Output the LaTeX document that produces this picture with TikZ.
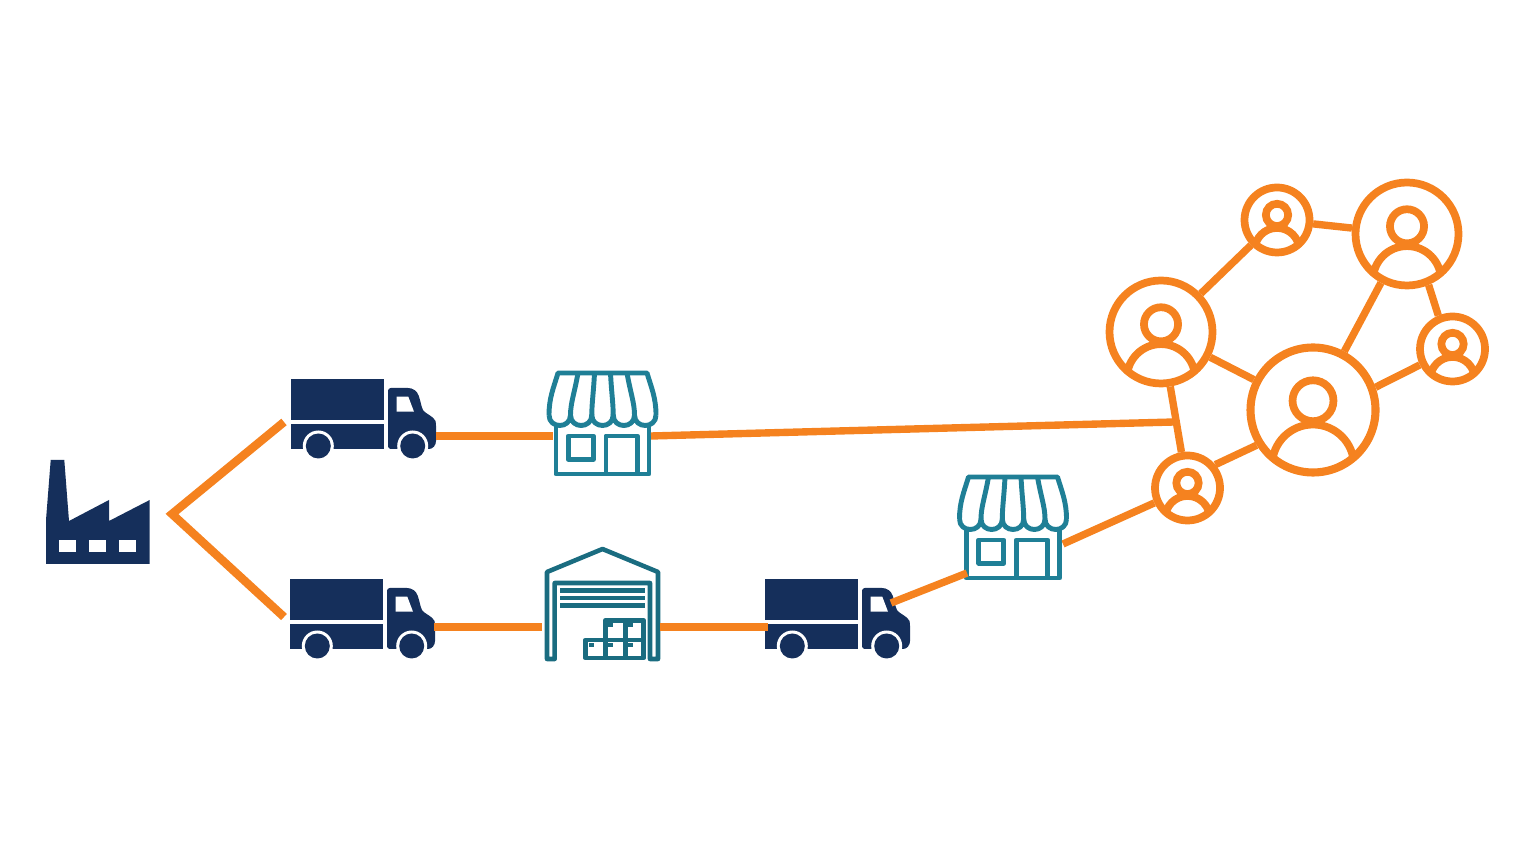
\documentclass[tikz,border=0pt]{standalone}
\definecolor{navy}{HTML}{152F5B}
\definecolor{teal}{HTML}{1F7F96}
\definecolor{tangerine}{HTML}{F5821F}
\tikzset{
    link/.style={draw=tangerine, line width=2.1pt},
    peernode/.style={circle, draw=tangerine, line width=2.2pt, inner sep=0pt},
    pics/peer/.style={code={
        \draw[tangerine, line width=2.2pt] (0,.14) circle (.31);
        \begin{scope}
            \clip (0,0) circle (1);
            \draw[tangerine, line width=2.2pt] (-.62,-.84) arc (180:0:.62);
        \end{scope}
    }},
    pics/truck/.style={code={
        \fill[navy] (0,0) rectangle (.93,-.41);
        \fill[navy] (0,-.45) rectangle (.93,-.70);
        \fill[navy, rounded corners=.8pt] (.97,-.09) -- (1.14,-.09) .. controls (1.22,-.09) and (1.26,-.12) .. (1.285,-.19)
            -- (1.31,-.29) .. controls (1.33,-.33) and (1.40,-.37) .. (1.44,-.405) -- (1.45,-.44) -- (1.45,-.65) -- (1.41,-.70) -- (.97,-.70) -- cycle;
        \fill[white] (1.057,-.177) -- (1.173,-.177) -- (1.23,-.327) -- (1.057,-.327) -- cycle;
        \fill[white] (.273,-.67) circle (.155);
        \fill[white] (1.217,-.67) circle (.155);
        \fill[navy] (.273,-.67) circle (.125);
        \fill[navy] (1.217,-.67) circle (.125);
    }},
    pics/store/.style={code={
        \begin{scope}[draw=teal, line width=1.4pt, line join=round]
        % awning
        \draw (-.535,-.42) .. controls (-.535,-.25) and (-.49,-.15) .. (-.445,0) -- (.445,0)
            .. controls (.49,-.15) and (.535,-.25) .. (.535,-.42);
        \draw (-.535,-.42) .. controls (-.535,-.56) and (-.32,-.56) .. (-.32,-.42)
            .. controls (-.32,-.56) and (-.107,-.56) .. (-.107,-.42)
            .. controls (-.107,-.56) and (.107,-.56) .. (.107,-.42)
            .. controls (.107,-.56) and (.32,-.56) .. (.32,-.42)
            .. controls (.32,-.56) and (.535,-.56) .. (.535,-.42);
        \draw (-.245,0) .. controls (-.28,-.2) and (-.32,-.3) .. (-.32,-.42);
        \draw (-.08,0) .. controls (-.09,-.2) and (-.107,-.3) .. (-.107,-.42);
        \draw (.08,0) .. controls (.09,-.2) and (.107,-.3) .. (.107,-.42);
        \draw (.245,0) .. controls (.28,-.2) and (.32,-.3) .. (.32,-.42);
        % shop front
        \draw (-.465,-.51) -- (-.465,-1.01) -- (.465,-1.01) -- (.465,-.51);
        \draw (-.342,-.63) rectangle (-.092,-.863);
        \draw (.035,-1.01) -- (.035,-.63) -- (.348,-.63) -- (.348,-1.01);
        \end{scope}
    }}
}
\begin{document}
\begin{tikzpicture}
    \useasboundingbox (0,0) rectangle (15.33,8.43);

    % Factory
    \fill[navy] (.46,2.79) -- (.46,3.23) -- (.507,3.83) -- (.643,3.83) -- (.69,3.22) -- (1.09,3.43)
        -- (1.09,3.22) -- (1.497,3.43) -- (1.497,2.79) -- cycle;
    \fill[white] (.593,2.91) rectangle (.76,3.03);
    \fill[white] (.893,2.91) rectangle (1.06,3.03);
    \fill[white] (1.193,2.91) rectangle (1.36,3.03);

    % Trucks
    \pic at (2.91,4.64) {truck};
    \pic at (2.90,2.64) {truck};
    \pic at (7.65,2.64) {truck};

    % Stores
    \pic at (6.025,4.70) {store};
    \pic at (10.13,3.66) {store};

    % Warehouse
    \begin{scope}[draw=teal!85!black, line width=1.3pt, line join=round]
        \draw (5.47,1.84) -- (5.47,2.71) -- (6.025,2.94) -- (6.58,2.71) -- (6.58,1.84) -- (6.50,1.84)
            -- (6.50,2.60) -- (5.547,2.60) -- (5.547,1.84) -- cycle;
        \draw (5.60,2.527) -- (6.45,2.527);
        \draw (5.60,2.45) -- (6.45,2.45);
        \draw (5.60,2.373) -- (6.45,2.373);
        \draw (5.853,1.85) rectangle (6.437,2.03);
        \draw (6.053,2.03) rectangle (6.437,2.227);
        \draw (6.053,1.85) -- (6.053,2.03);
        \draw (6.253,1.85) -- (6.253,2.227);
    \end{scope}
    \fill[teal!85!black] (6.08,2.16) rectangle (6.13,2.20);
    \fill[teal!85!black] (6.28,2.16) rectangle (6.33,2.20);
    \fill[teal!85!black] (5.89,1.96) rectangle (5.94,2.00);
    \fill[teal!85!black] (6.08,1.96) rectangle (6.13,2.00);
    \fill[teal!85!black] (6.28,1.96) rectangle (6.33,2.00);

    % People network
    \node[peernode, minimum size=1.25cm, line width=2.3pt] (hub) at (13.13,4.33) {};
    \node[peernode, minimum size=1.03cm] (peerLeft) at (11.61,5.11) {};
    \node[peernode, minimum size=1.03cm] (peerTopRight) at (14.07,6.09) {};
    \node[peernode, minimum size=.65cm] (peerTop) at (12.77,6.23) {};
    \node[peernode, minimum size=.65cm] (peerRight) at (14.525,4.94) {};
    \node[peernode, minimum size=.65cm] (peerBottom) at (11.875,3.55) {};
    \pic[scale=.66] at (hub) {peer};
    \pic[scale=.55] at (peerLeft) {peer};
    \pic[scale=.55] at (peerTopRight) {peer};
    \pic[scale=.36] at (peerTop) {peer};
    \pic[scale=.36] at (peerRight) {peer};
    \pic[scale=.36] at (peerBottom) {peer};

    \draw[link] (peerLeft) -- (peerTop);
    \draw[link] (peerTop) -- (peerTopRight);
    \draw[link] (peerTopRight) -- (hub);
    \draw[link] (peerTopRight.293) -- (peerRight.113);
    \draw[link] (hub.20) -- (peerRight.206);
    \draw[link] (hub) -- (peerLeft);
    \draw[link] (hub.212) -- (peerBottom.40);
    \draw[link] (peerLeft) -- (peerBottom);

    % Free ends of the connectors
    \coordinate (forkApex) at (1.72,3.29);
    \coordinate (truckAin) at (2.84,4.21);
    \coordinate (truckBin) at (2.84,2.26);
    \coordinate (truckAout) at (4.36,4.07);
    \coordinate (storeAin) at (5.53,4.07);
    \coordinate (storeAout) at (6.51,4.07);
    \coordinate (tapLine) at (11.74,4.21);
    \coordinate (truckBout) at (4.34,2.16);
    \coordinate (depotIn) at (5.42,2.16);
    \coordinate (depotOut) at (6.60,2.16);
    \coordinate (truckCin) at (7.68,2.16);
    \coordinate (truckCout) at (8.91,2.40);
    \coordinate (storeBin) at (9.67,2.70);
    \coordinate (storeBout) at (10.63,2.99);

    \draw[link, line width=2.4pt, line join=miter] (truckAin) -- (forkApex) -- (truckBin);
    \draw[link] (truckAout) -- (storeAin);
    \draw[link] (storeAout) -- (tapLine);
    \draw[link] (truckBout) -- (depotIn);
    \draw[link] (depotOut) -- (truckCin);
    \draw[link] (truckCout) -- (storeBin);
    \draw[link] (storeBout) -- (peerBottom);
\end{tikzpicture}
\end{document}
